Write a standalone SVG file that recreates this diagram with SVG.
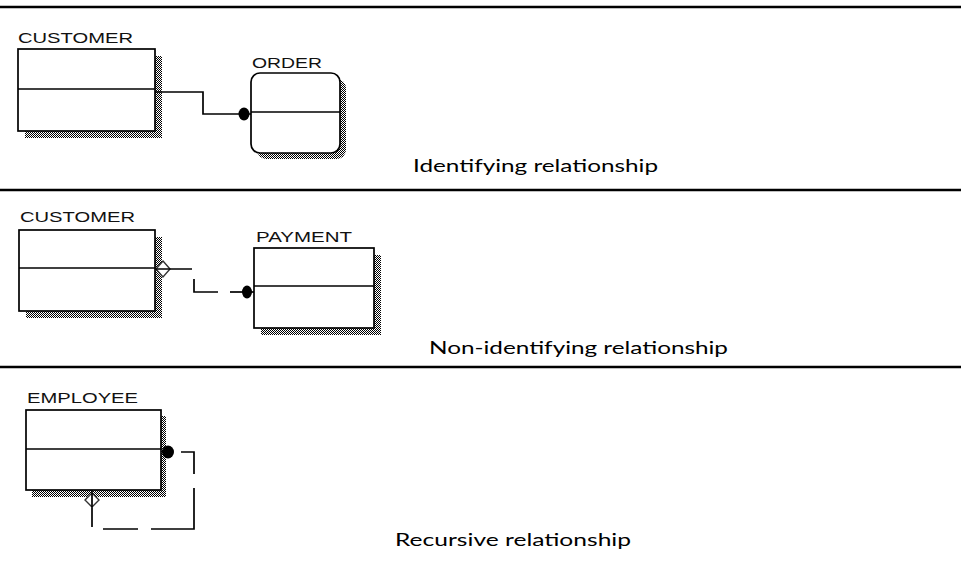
<svg xmlns="http://www.w3.org/2000/svg" width="961" height="561" viewBox="0 0 961 561">
  <defs>
    <pattern id="dith" width="2" height="2" patternUnits="userSpaceOnUse">
      <rect width="2" height="2" fill="#ffffff"/>
      <rect x="0" y="0" width="1" height="1" fill="#000000"/>
      <rect x="1" y="1" width="1" height="1" fill="#000000"/>
    </pattern>
  </defs>
  <style>
    .box { fill: #ffffff; stroke: #000000; stroke-width: 1.7; }
    .shadow { fill: url(#dith); stroke: none; }
    .div { stroke: #000000; stroke-width: 1.7; fill: none; }
    .ename { font-family: "Liberation Sans", Arial, sans-serif; font-size: 15px; fill: #111111; }
    .cap { font-family: Lato, "Open Sans", sans-serif; font-size: 18px; fill: #000000; }
    .sep { stroke: #000000; stroke-width: 2.5; }
    .conn { stroke: #000000; stroke-width: 1.7; fill: none; }
    .dot { fill: #000000; stroke: none; }
    .opt { fill: #ffffff; stroke: #333333; stroke-width: 1.4; }
  </style>
  <rect width="961" height="561" fill="#ffffff"/>

  <g id="separators">
    <line class="sep" x1="0" y1="7" x2="961" y2="7"/>
    <line class="sep" x1="0" y1="190" x2="961" y2="190"/>
    <line class="sep" x1="0" y1="367" x2="961" y2="367"/>
  </g>

  <g id="customer1">
    <text class="ename" x="18" y="43" textLength="115" lengthAdjust="spacingAndGlyphs">CUSTOMER</text>
    <rect class="shadow" x="25" y="56" width="137" height="82"/>
    <rect class="box" x="18" y="49" width="137" height="82"/>
    <line class="div" x1="18" y1="89" x2="155" y2="89"/>
  </g>

  <g id="order">
    <text class="ename" x="252" y="68" textLength="70" lengthAdjust="spacingAndGlyphs">ORDER</text>
    <rect class="shadow" x="257" y="79" width="89" height="80" rx="9"/>
    <rect class="box" x="251" y="73" width="89" height="80" rx="9"/>
    <line class="div" x1="251" y1="112" x2="340" y2="112"/>
  </g>

  <g id="customer2">
    <text class="ename" x="20" y="222" textLength="115" lengthAdjust="spacingAndGlyphs">CUSTOMER</text>
    <rect class="shadow" x="26" y="237" width="136" height="81"/>
    <rect class="box" x="19" y="230" width="136" height="81"/>
    <line class="div" x1="19" y1="268" x2="155" y2="268"/>
  </g>

  <g id="payment">
    <text class="ename" x="256" y="242" textLength="96" lengthAdjust="spacingAndGlyphs">PAYMENT</text>
    <rect class="shadow" x="261" y="255" width="120" height="80"/>
    <rect class="box" x="254" y="248" width="120" height="80"/>
    <line class="div" x1="254" y1="286" x2="374" y2="286"/>
  </g>

  <g id="employee">
    <text class="ename" x="27" y="403" textLength="111" lengthAdjust="spacingAndGlyphs">EMPLOYEE</text>
    <rect class="shadow" x="32" y="416" width="134" height="81"/>
    <rect class="box" x="26" y="410" width="135" height="80"/>
    <line class="div" x1="26" y1="449" x2="161" y2="449"/>
  </g>

  <g id="connectors">
    <!-- identifying -->
    <polyline class="conn" points="155,92 203,92 203,114 251,114"/>
    <ellipse class="dot" cx="244" cy="114" rx="5.5" ry="6.5"/>
    <!-- non-identifying -->
    <polygon class="opt" points="163,261 170,269 163,277 156,269"/>
    <line class="conn" x1="155" y1="269" x2="192" y2="269"/>
    <polyline class="conn" points="194,279 194,292 218,292"/>
    <line class="conn" x1="230" y1="292" x2="254" y2="292"/>
    <ellipse class="dot" cx="247" cy="292" rx="5" ry="6.5"/>
    <!-- recursive -->
    <ellipse class="dot" cx="168" cy="452" rx="6" ry="6.5"/>
    <polyline class="conn" points="181,452 194,452 194,474"/>
    <polyline class="conn" points="194,488 194,529 151,529"/>
    <line class="conn" x1="138" y1="529" x2="103" y2="529"/>
    <line class="conn" x1="92" y1="527" x2="92" y2="490"/>
    <polygon class="opt" points="92,493 99,500 92,507 85,500"/>
    <line class="conn" x1="92" y1="493" x2="92" y2="507"/>
  </g>

  <g id="captions">
    <text class="cap" x="413" y="172" textLength="245" lengthAdjust="spacingAndGlyphs">Identifying relationship</text>
    <text class="cap" x="429" y="354" textLength="299" lengthAdjust="spacingAndGlyphs">Non-identifying relationship</text>
    <text class="cap" x="395" y="546" textLength="236" lengthAdjust="spacingAndGlyphs">Recursive relationship</text>
  </g>
</svg>
